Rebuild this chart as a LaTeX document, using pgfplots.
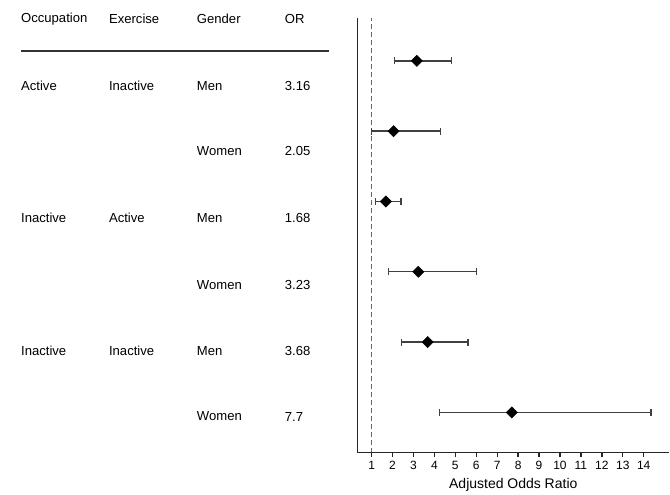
\documentclass[border=0pt]{standalone}
\usepackage{pgfplots}
\pgfplotsset{compat=1.18}
\usepackage{pgfplotstable}
\usepackage{fontspec}
\setmainfont{Liberation Sans}
\pgfplotstableread{
y   or    plus  minus
6   3.16  1.65  1.06
5   2.05  2.24  1.05
4   1.68  0.72  0.48
3   3.23  2.78  1.42
2   3.68  1.92  1.25
1   7.70  6.65  3.45
}\ortable
\begin{document}
\begin{tikzpicture}[x=1pt,y=1pt]
\path (0,0) rectangle (670,492);
\begin{scope}[every node/.style={anchor=west,font=\fontsize{13.1}{15}\selectfont,inner sep=0pt}]
\node at (21,492-19) {Occupation};
\node at (109,492-19) {Exercise};
\node at (197,492-19) {Gender};
\node at (285,492-19) {OR};
\draw[line width=1.3pt,black!80] (21,492-51) -- (329,492-51);
\node at (21,492-86) {Active};
\node at (109,492-86) {Inactive};
\node at (197,492-86) {Men};
\node at (285,492-86) {3.16};
\node at (197,492-151) {Women};
\node at (285,492-151) {2.05};
\node at (21,492-218) {Inactive};
\node at (109,492-218) {Active};
\node at (197,492-218) {Men};
\node at (285,492-218) {1.68};
\node at (197,492-285) {Women};
\node at (285,492-285) {3.23};
\node at (21,492-351) {Inactive};
\node at (109,492-351) {Inactive};
\node at (197,492-351) {Men};
\node at (285,492-351) {3.68};
\node at (197,492-417) {Women};
\node at (285,492-417) {7.7};
\end{scope}
\begin{axis}[
  at={(357.7pt,39pt)}, anchor=origin,
  scale only axis, width=312.3pt, height=435pt,
  xmin=0.317, xmax=15.22, ymin=0.43, ymax=6.61,
  axis x line=bottom, axis y line=left,
  axis line style={-, line width=1.5pt, black!85},
  xtick={1,...,14}, ytick=\empty,
  tick align=outside, major tick length=5pt,
  tick style={line width=1.3pt, black!85},
  ticklabel style={font=\fontsize{12}{14}\selectfont},
  /pgf/number format/assume math mode=true,
  xlabel={Adjusted Odds Ratio},
  xlabel style={font=\fontsize{14}{16}\selectfont, yshift=-2pt},
  clip=false,
]
\addplot[gray!80!black, line width=1.4pt, dash pattern=on 5pt off 3pt] coordinates {(1,0.43) (1,6.61)};
\addplot[only marks, mark=square*, mark size=4pt, mark options={rotate=45, fill=black, draw=black},
  error bars/.cd, x dir=both, x explicit,
  error bar style={line width=1.4pt, black!75},
  error mark options={rotate=90, mark size=3.5pt, line width=1.4pt, black!75}]
  table[x=or, y=y, x error plus=plus, x error minus=minus] {\ortable};
\end{axis}
\end{tikzpicture}
\end{document}
